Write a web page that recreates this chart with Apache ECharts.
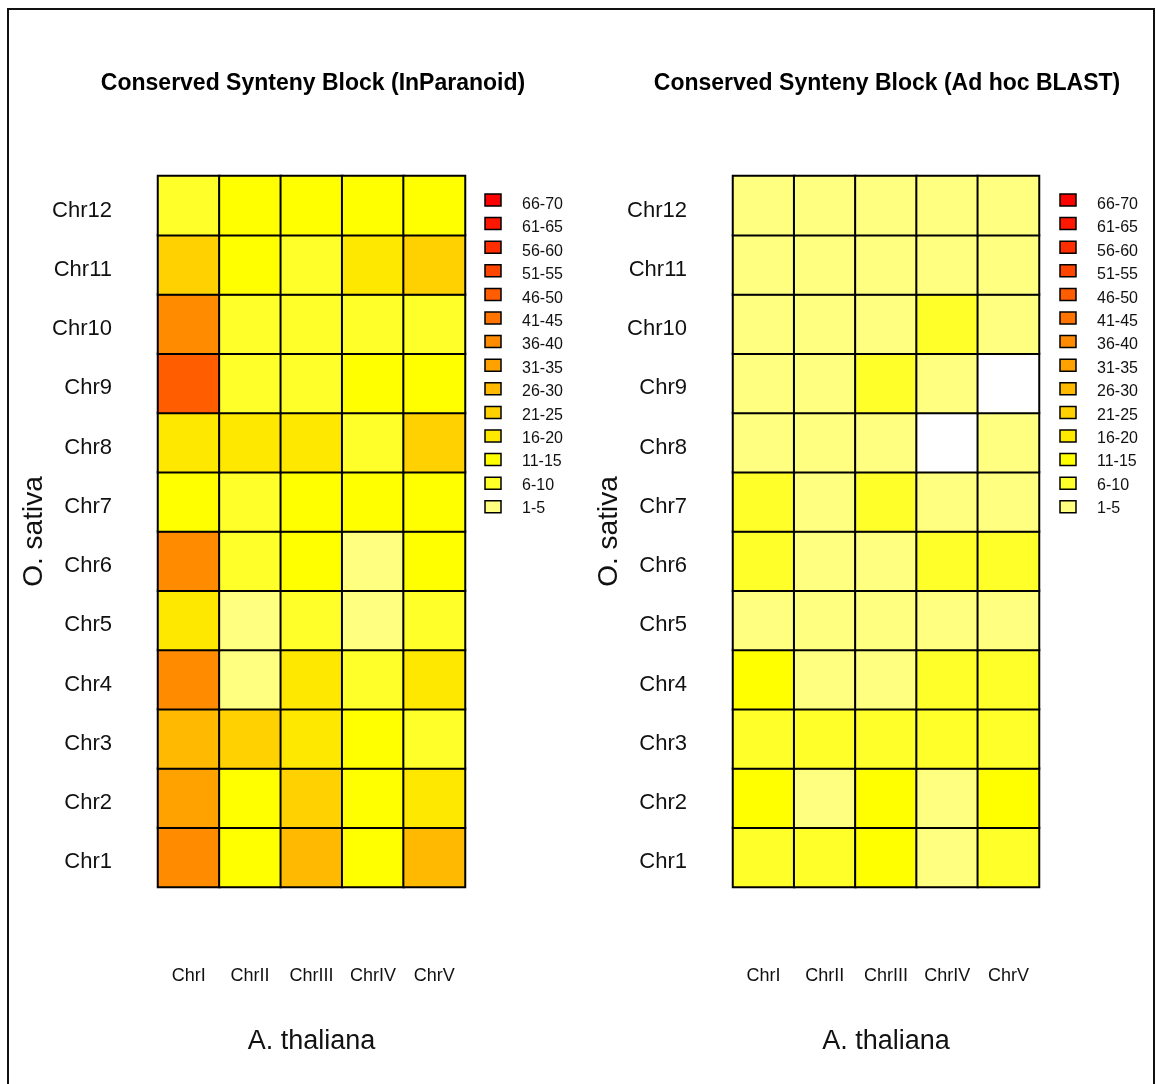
<!DOCTYPE html>
<html>
<head>
<meta charset="utf-8">
<title>Conserved Synteny Blocks</title>
<script src="https://cdn.jsdelivr.net/npm/echarts@6/dist/echarts.min.js"></script>
<style>
  html, body { margin: 0; padding: 0; background: #ffffff; }
  #chart { width: 1156px; height: 1084px; }
</style>
</head>
<body>
<div id="chart"></div>
<script>
// A. thaliana chromosomes (columns) and O. sativa chromosomes (rows, bottom to top)
const athChromosomes = ['ChrI', 'ChrII', 'ChrIII', 'ChrIV', 'ChrV'];
const osaChromosomes = ['Chr1', 'Chr2', 'Chr3', 'Chr4', 'Chr5', 'Chr6',
                        'Chr7', 'Chr8', 'Chr9', 'Chr10', 'Chr11', 'Chr12'];

// Number of conserved synteny blocks, one row per O. sativa chromosome (Chr1 first),
// columns ChrI..ChrV. 0 = no block found.
const inparanoidBlocks = [
  [38, 12, 28, 13, 27],
  [33, 14, 22, 12, 17],
  [29, 24, 18, 11, 8],
  [39, 4, 19, 9, 18],
  [17, 3, 7, 5, 9],
  [37, 8, 12, 4, 14],
  [13, 9, 11, 12, 13],
  [19, 16, 18, 7, 23],
  [48, 8, 6, 11, 12],
  [38, 9, 7, 8, 6],
  [22, 11, 6, 17, 21],
  [10, 13, 12, 14, 11]
];
const blastBlocks = [
  [7, 8, 12, 3, 9],
  [11, 4, 13, 2, 12],
  [8, 9, 7, 10, 6],
  [11, 3, 4, 6, 8],
  [2, 3, 4, 3, 2],
  [7, 4, 3, 9, 8],
  [6, 2, 8, 4, 3],
  [3, 2, 4, 0, 3],
  [2, 3, 6, 4, 0],
  [3, 4, 2, 7, 3],
  [2, 3, 4, 2, 3],
  [3, 2, 3, 4, 2]
];

// Count bins (low to high) and their heat colours
const binLabels = ['1-5', '6-10', '11-15', '16-20', '21-25', '26-30', '31-35',
                   '36-40', '41-45', '46-50', '51-55', '56-60', '61-65', '66-70'];
const binColors = ['#FFFF80', '#FFFF2A', '#FFFF00', '#FFE800', '#FFD100', '#FFB900', '#FFA200',
                   '#FF8B00', '#FF7400', '#FF5D00', '#FF4600', '#FF2E00', '#FF1700', '#FF0000'];

const titles = ['Conserved Synteny Block (InParanoid)', 'Conserved Synteny Block (Ad hoc BLAST)'];

const FONT = '"Liberation Sans", Arial, Helvetica, sans-serif';
const NARROW = '"Liberation Sans Narrow", "Liberation Sans", Arial, sans-serif';

function toCells(matrix) {
  const cells = [];
  matrix.forEach((row, yi) => row.forEach((v, xi) => cells.push([xi, yi, v])));
  return cells;
}

const pieces = binLabels.map((label, i) => ({ min: 1 + 5 * i, max: 5 + 5 * i, label, color: binColors[i] }));

// Panel geometry
const panels = [
  { left: 158, width: 307, legendX: 485, titleX: 308 },
  { left: 733, width: 306, legendX: 1060, titleX: 882 }
];
const gridTop = 176, gridHeight = 711;

function legendGraphics(x0) {
  const items = [];
  const n = binLabels.length;
  for (let k = 0; k < n; k++) {
    const i = n - 1 - k; // highest bin on top
    const cy = 200 + k * 23.6;
    items.push({
      type: 'rect',
      shape: { x: x0, y: cy - 6, width: 16, height: 12 },
      style: { fill: binColors[i], stroke: '#000', lineWidth: 1.5 }
    });
    items.push({
      type: 'text',
      x: x0 + 37, y: 204.5 + k * 23.4,
      style: { text: binLabels[i], font: '16px ' + FONT, fill: '#111', verticalAlign: 'middle' }
    });
  }
  return items;
}

const option = {
  backgroundColor: '#ffffff',
  animation: false,
  title: panels.map((p, i) => ({
    text: titles[i],
    left: p.titleX,
    top: 67,
    textAlign: 'center',
    textStyle: { fontFamily: FONT, fontSize: 23, fontWeight: 'bold', color: '#000' }
  })),
  grid: panels.map(p => ({ left: p.left, top: gridTop, width: p.width, height: gridHeight })),
  xAxis: panels.map((p, i) => ({
    type: 'category',
    gridIndex: i,
    data: athChromosomes,
    axisLine: { show: false },
    axisTick: { show: false },
    splitLine: { show: false },
    axisLabel: { margin: 80, fontFamily: NARROW, fontSize: 18, color: '#111', interval: 0 },
    name: 'A. thaliana',
    nameLocation: 'middle',
    nameGap: 141,
    nameTextStyle: { fontFamily: FONT, fontSize: 27, color: '#111' }
  })),
  yAxis: panels.map((p, i) => ({
    type: 'category',
    gridIndex: i,
    data: osaChromosomes,
    axisLine: { show: false },
    axisTick: { show: false },
    splitLine: { show: false },
    axisLabel: {
      margin: 46, interval: 0,
      formatter: v => '{c|' + v + '}',
      rich: { c: { fontFamily: FONT, fontSize: 22, color: '#111', padding: [10, 0, 0, 0] } }
    },
    name: 'O. sativa',
    nameLocation: 'middle',
    nameRotate: 90,
    nameGap: 107,
    nameTextStyle: { fontFamily: FONT, fontSize: 28, color: '#111' }
  })),
  visualMap: [0, 1].map(i => ({
    type: 'piecewise',
    show: false,
    seriesIndex: i,
    pieces: pieces,
    outOfRange: { color: '#ffffff' }
  })),
  series: [inparanoidBlocks, blastBlocks].map((m, i) => ({
    type: 'heatmap',
    xAxisIndex: i,
    yAxisIndex: i,
    data: toCells(m),
    itemStyle: { borderColor: '#000', borderWidth: 2 },
    emphasis: { disabled: true }
  })),
  graphic: [
    {
      type: 'rect',
      shape: { x: 8, y: 9, width: 1146, height: 1100 },
      style: { fill: 'none', stroke: '#111', lineWidth: 2 },
      silent: true
    }
  ].concat(legendGraphics(panels[0].legendX), legendGraphics(panels[1].legendX))
};

const chart = echarts.init(document.getElementById('chart'), null, { renderer: 'canvas' });
chart.setOption(option);
</script>
</body>
</html>
